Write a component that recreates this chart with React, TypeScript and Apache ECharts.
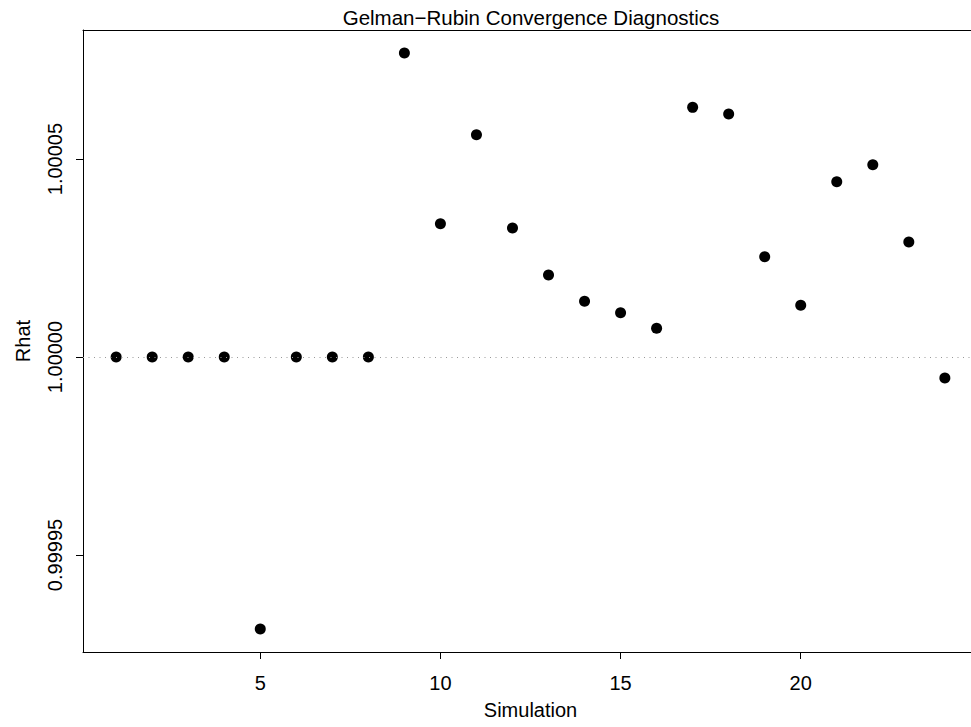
import React, { useEffect, useRef } from "react";
import * as echarts from "echarts";

const simulations = [1, 2, 3, 4, 5, 6, 7, 8, 9, 10, 11, 12, 13, 14, 15, 16, 17, 18, 19, 20, 21, 22, 23, 24];
const rhatOffsets = [
  0, 0, 0, 0, -6.869e-5, 0, 0, 0, 7.677e-5, 3.366e-5, 5.614e-5, 3.258e-5,
  2.071e-5, 1.407e-5, 1.119e-5, 0.725e-5, 6.306e-5, 6.136e-5, 2.533e-5,
  1.306e-5, 4.427e-5, 4.856e-5, 2.904e-5, -0.53e-5,
];
const rhatValues = rhatOffsets.map((d) => 1 + d);
const xTicks = [5, 10, 15, 20];
const yTicks = [0.99995, 1.0, 1.00005];

const FONT = "'Liberation Sans', Arial, Helvetica, sans-serif";
const X_MIN = 0.08;
const X_MAX = 24.92;

export default function App() {
  const ref = useRef<HTMLDivElement>(null);
  useEffect(() => {
    if (!ref.current) return;
    document.body.style.margin = "0";
    document.body.style.overflow = "hidden";
    const chart = echarts.init(ref.current, undefined, { renderer: "svg" });
    chart.setOption({
      animation: false,
      backgroundColor: "#fff",
      title: {
        text: "Gelman\u2212Rubin Convergence Diagnostics",
        left: 526,
        textAlign: "center",
        top: 2,
        textStyle: { fontFamily: FONT, fontSize: 20.5, fontWeight: "normal", color: "#000" },
      },
      grid: {
        left: 83,
        top: 30,
        width: 895,
        height: 622,
        show: false,
        outerBoundsMode: "none",
        containLabel: false,
      },
      xAxis: [
        {
          type: "value",
          min: X_MIN,
          max: X_MAX,
          name: "Simulation",
          nameLocation: "middle",
          nameGap: 48,
          nameTextStyle: { fontFamily: FONT, fontSize: 20, color: "#000" },
          axisLine: { show: true, lineStyle: { color: "#000", width: 1 } },
          splitLine: { show: false },
          axisTick: { show: true, length: 7, customValues: xTicks, lineStyle: { color: "#000" } },
          axisLabel: {
            customValues: xTicks,
            margin: 21,
            fontFamily: FONT,
            fontSize: 20,
            color: "#000",
          },
        },
        {
          type: "value",
          position: "top",
          min: X_MIN,
          max: X_MAX,
          axisLine: { show: true, lineStyle: { color: "#000", width: 1 } },
          splitLine: { show: false },
          axisTick: { show: false },
          axisLabel: { show: false },
        },
      ],
      yAxis: {
        type: "value",
        min: 0.9999255,
        max: 1.0000826,
        name: "Rhat",
        nameLocation: "middle",
        nameGap: 50,
        nameTextStyle: { fontFamily: FONT, fontSize: 20, color: "#000" },
        axisLine: { show: true, lineStyle: { color: "#000", width: 1 } },
        splitLine: { show: false },
        axisTick: { show: true, length: 7, customValues: yTicks, lineStyle: { color: "#000" } },
        axisLabel: {
          customValues: yTicks,
          rotate: 90,
          margin: 18,
          fontFamily: FONT,
          fontSize: 20,
          color: "#000",
          formatter: (v: number) => v.toFixed(5),
        },
      },
      series: [
        {
          type: "scatter",
          xAxisIndex: 0,
          data: simulations.map((s, i) => [s, rhatValues[i]]),
          symbol: "circle",
          symbolSize: 11,
          itemStyle: { color: "#000", opacity: 1 },
          markLine: {
            silent: true,
            symbol: ["none", "none"],
            label: { show: false },
            lineStyle: { color: "#999", width: 1, type: [1, 4.5], opacity: 1 },
            data: [{ yAxis: 1 }],
          },
        },
      ],
    });
    return () => chart.dispose();
  }, []);
  return (
    <div
      ref={ref}
      style={{ position: "absolute", left: 0, top: 0, width: 971, height: 727 }}
    />
  );
}
